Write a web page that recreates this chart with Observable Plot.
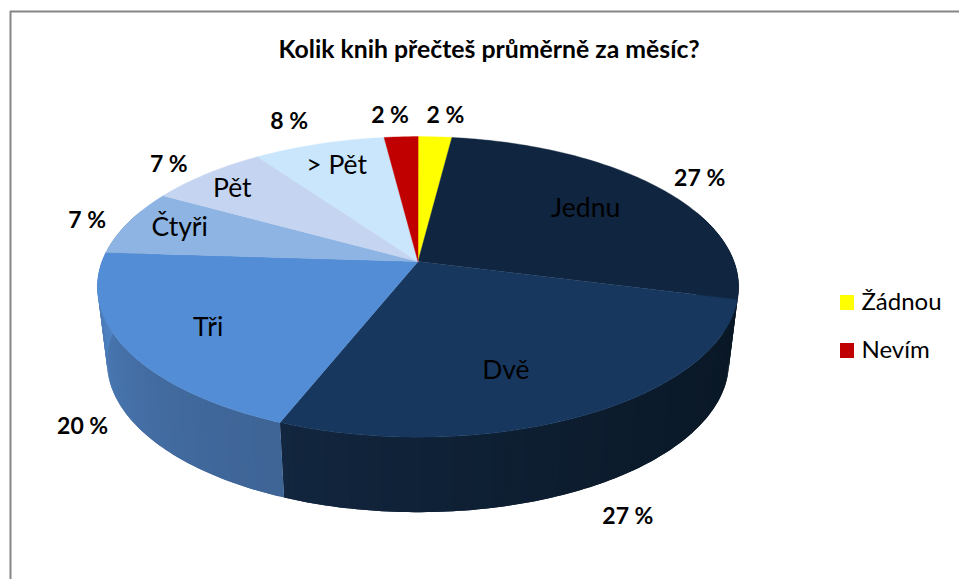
<!DOCTYPE html>
<html lang="cs">
<head>
<meta charset="utf-8">
<style>html,body{margin:0;padding:0;background:#fff}svg{display:block}</style>
<script src="https://cdn.jsdelivr.net/npm/d3@7"></script>
<script src="https://cdn.jsdelivr.net/npm/@observablehq/plot@0.6"></script>
</head>
<body>
<div id="chart"></div>
<script>
// Data, clockwise from twelve o'clock
const categories = ["Žádnou", "Jednu", "Dvě", "Tři", "Čtyři", "Pět", "> Pět", "Nevím"];
const percents = [2, 27, 27, 20, 7.1, 7.1, 7.8, 2];
const sliceLabels = ["", "Jednu", "Dvě", "Tři", "Čtyři", "Pět", "> Pět", ""];
const legendItems = ["Žádnou", "Nevím"];
const titleText = "Kolik knih přečteš průměrně za měsíc?";

// Styling
const topColors = ["#ffff00", "#10253f", "#17375e", "#538dd5", "#8db4e2", "#c5d5f1", "#c9e6fc", "#c00000"];
const wallFrom = ["#cccc00", "#0a1826", "#0a1826", "#3f6597", "#7090b0", "#90a0c0", "#90a8c0", "#900000"];
const wallTo = ["#cccc00", "#0a1826", "#12263f", "#5085c6", "#7090b0", "#90a0c0", "#90a8c0", "#900000"];
const legendColors = ["#ffff00", "#c00000"];

// Layout offsets (px) of the labels from each slice's rim midpoint
const outerOffset = [[10.5, -21], [43, -8], [41, 102], [-42, 79], [-41.5, -2], [-38, -9], [-30, -22], [-11, -21]];
const innerOffset = [[0, 0], [-71, 22], [-81, -44], [83.5, -20], [51, 5], [25.5, 15], [17.5, 22], [0, 0]];

// Perspective projection of the pie disc
const cx = 417.5, cy = 261, ax = 316, by = 146, persp = 0.169, wallDepth = 75, wallShrink = 0.97;
function project(frac, r = 1) {
  const th = 2 * Math.PI * frac;
  const X = r * Math.sin(th), Y = -r * Math.cos(th), d = 1 - persp * Y;
  return {x: cx + ax * X / d, y: cy + by * Y / d, depth: Y};
}
const lower = (p) => ({x: cx + (p.x - cx) * wallShrink, y: p.y + wallDepth});

const ends = d3.cumsum(percents).map((v) => v / 100);
const starts = [0, ...ends.slice(0, -1)];
const mids = starts.map((s, i) => (s + ends[i]) / 2);
const stepsOf = (i) => Math.max(2, Math.round(percents[i] * 3.6));
const rimPoint = (i, j) => project(starts[i] + (ends[i] - starts[i]) * j / stepsOf(i));

// Top faces: centre + arc
const topRows = [];
categories.forEach((c, i) => {
  topRows.push({id: c, x: cx, y: cy, color: topColors[i]});
  for (let j = 0; j <= stepsOf(i); ++j) {
    const p = rimPoint(i, j);
    topRows.push({id: c, x: p.x, y: p.y, color: topColors[i]});
  }
});

// Side wall: thin shaded quads, each overlapping the next so that no seam shows
const wallRows = [];
categories.forEach((c, i) => {
  const n = stepsOf(i), shade = d3.interpolateRgb(wallFrom[i], wallTo[i]);
  for (let j = 0; j < n; ++j) {
    const a = rimPoint(i, j), m = rimPoint(i, j + 1), b = rimPoint(i, Math.min(j + 2, n));
    if ((a.depth + m.depth) / 2 < -0.35) continue;
    const color = shade(Math.pow(j / n, 1.5));
    [a, m, b, lower(b), lower(m), lower(a)].forEach((p) => wallRows.push({id: c + j, x: p.x, y: p.y, color}));
  }
});

const outerRows = categories.map((c, i) => {
  const p = project(mids[i]);
  return {x: p.x + outerOffset[i][0], y: p.y + outerOffset[i][1], text: Math.round(percents[i]) + " %"};
});
const innerRows = sliceLabels.map((t, i) => {
  const p = project(mids[i]);
  return {x: p.x + innerOffset[i][0], y: p.y + innerOffset[i][1], text: t};
}).filter((d) => d.text);

const font = "Lato, Carlito, Calibri, sans-serif";
const polygon = (rows, sw) => Plot.line(rows, {x: "x", y: "y", z: "id", fill: "color", stroke: sw ? "color" : "none", strokeWidth: sw, curve: "linear-closed"});

const plot = Plot.plot({
  width: 959, height: 579,
  margin: 0,
  x: {domain: [0, 959], range: [0, 959], axis: null},
  y: {domain: [0, 579], range: [0, 579], axis: null},
  style: {background: "#fff", fontFamily: font},
  marks: [
    Plot.ruleX([10], {y1: 11, y2: 579, stroke: "#868686", strokeWidth: 2}),
    Plot.ruleY([11], {x1: 10, x2: 959, stroke: "#868686", strokeWidth: 2}),
    polygon(wallRows, 0),
    polygon(topRows, 0.4),
    Plot.text([titleText], {x: 488.5, y: 50, text: (d) => d, fontSize: 24.8, fontWeight: "bold", fontFamily: font, fill: "#000"}),
    Plot.text(outerRows, {x: "x", y: "y", text: "text", fontSize: 23, fontWeight: "bold", fontFamily: font, fill: "#000"}),
    Plot.text(innerRows, {x: "x", y: "y", text: "text", fontSize: 26.5, fontFamily: font, fill: "#000"}),
    Plot.rect(legendItems, {x1: 840, x2: 854, y1: (d, i) => 295 + 48 * i, y2: (d, i) => 310 + 48 * i, fill: (d, i) => legendColors[i]}),
    Plot.text(legendItems, {x: 861, y: (d, i) => 302 + 48 * i, text: (d) => d, textAnchor: "start", fontSize: 24, fontFamily: font, fill: "#000"})
  ]
});
document.getElementById("chart").append(plot);
</script>
</body>
</html>
